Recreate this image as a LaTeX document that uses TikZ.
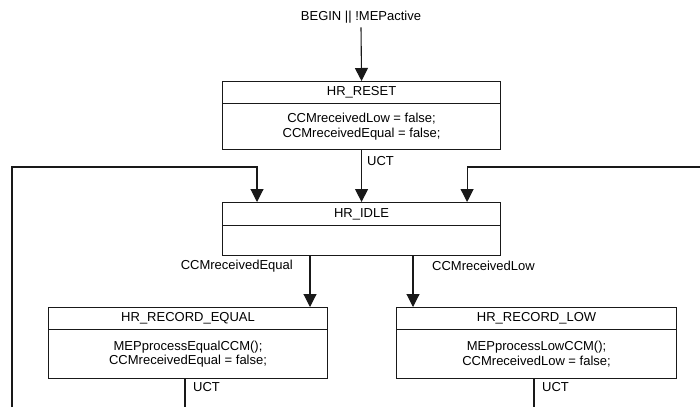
\documentclass[tikz,border=0pt]{standalone}
\usepackage{fontspec}
\setmainfont{Liberation Sans}
\usetikzlibrary{arrows.meta}
\begin{document}
\begin{tikzpicture}[x=1pt,y=-1pt,
  every node/.style={font=\fontsize{13}{14.5}\selectfont, text=black},
  line/.style={line width=1.1pt, draw=black!90},
  arr/.style={line, -{Triangle[width=13pt,length=13pt]}},
  titlebox/.style={line, draw, minimum height=22pt, inner sep=0pt, anchor=north west},
  bodybox/.style={line, draw, inner sep=0pt, align=center, anchor=north west},
  lbl/.style={inner sep=0pt}
]
\useasboundingbox (0,0) rectangle (700,407);

% HR_RESET
\node[titlebox, minimum width=278pt] (reset) at (222,81) {HR\_RESET};
\node[bodybox, minimum width=278pt, minimum height=46pt] (resetbody) at (222,103)
  {CCMreceivedLow = false;\\CCMreceivedEqual = false;};

% HR_IDLE
\node[titlebox, minimum width=278pt, minimum height=23pt] (idle) at (222,202) {HR\_IDLE};
\node[bodybox, minimum width=278pt, minimum height=30pt] (idlebody) at (222,225) {};

% HR_RECORD_EQUAL
\node[titlebox, minimum width=279pt] (eq) at (48,307) {HR\_RECORD\_EQUAL};
\node[bodybox, minimum width=279pt, minimum height=49pt] (eqbody) at (48,329)
  {MEPprocessEqualCCM();\\CCMreceivedEqual = false;};

% HR_RECORD_LOW
\node[titlebox, minimum width=280pt] (low) at (396,307) {HR\_RECORD\_LOW};
\node[bodybox, minimum width=280pt, minimum height=49pt] (lowbody) at (396,329)
  {MEPprocessLowCCM();\\CCMreceivedLow = false;};

% entry condition
\node[lbl] (begin) at (361,17) {BEGIN || !MEPactive};
\draw[arr] ([yshift=-4pt]begin.south) -- (reset.north);

% RESET -> IDLE
\draw[arr] (resetbody.south) -- (idle.north);
\node[lbl, anchor=west] (uct0) at (367,161) {UCT};

% returns into IDLE
\coordinate (lb) at (12,407);
\coordinate (lt) at (12,167);
\coordinate (rt) at (700,167);
\draw[arr] (lb) -- (lt) -| ([xshift=35pt]idle.north west);
\draw[arr] (rt) -| ([xshift=-34pt]idle.north east);

% IDLE -> RECORD_EQUAL / RECORD_LOW
\draw[arr] ([xshift=88pt]idlebody.south west) -- ([xshift=88pt]idlebody.south west |- eq.north);
\draw[arr] ([xshift=191pt]idlebody.south west) -- ([xshift=191pt]idlebody.south west |- low.north);
\node[lbl, anchor=east] (ceq) at (293,266) {CCMreceivedEqual};
\node[lbl, anchor=west] (clow) at (432,266) {CCMreceivedLow};

% unconditional exits
\coordinate (eqout) at (185,407);
\coordinate (lowout) at (534,407);
\draw[line] (eqbody.south -| eqout) -- (eqout);
\draw[line] (lowbody.south -| lowout) -- (lowout);
\node[lbl, anchor=west] (uct1) at (193,387) {UCT};
\node[lbl, anchor=west] (uct2) at (542,387) {UCT};
\end{tikzpicture}
\end{document}
